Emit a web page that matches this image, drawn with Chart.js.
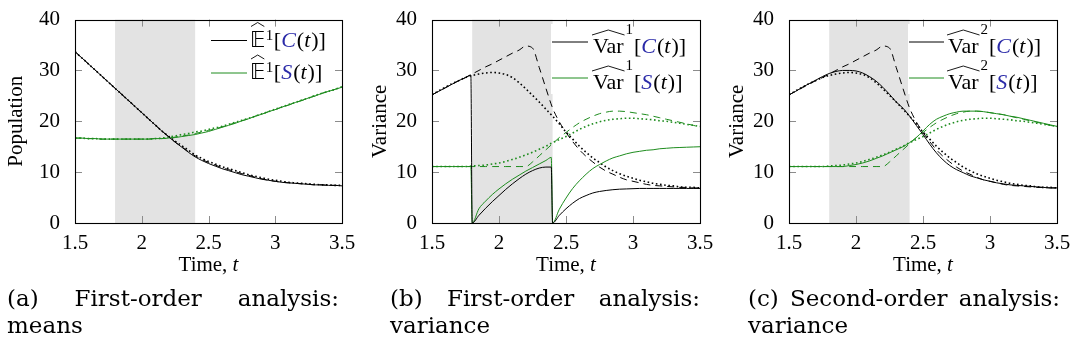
<!DOCTYPE html>
<html>
<head>
<meta charset="utf-8">
<script src="https://cdn.jsdelivr.net/npm/chart.js@4.4.1/dist/chart.umd.min.js"></script>
<style>
  body { margin: 0; background: #fff; width: 1074px; height: 361px; position: relative; overflow: hidden; }
  canvas { position: absolute; top: 0; }
  .cap { position: absolute; top: 285px; font-family: "DejaVu Serif", serif; font-size: 23px; line-height: 27px; color: #000; }
  .cap .first { text-align: justify; text-align-last: justify; }
</style>
</head>
<body>
<canvas id="meanChart" width="362" height="290" style="left:0px"></canvas>
<canvas id="var1Chart" width="363" height="290" style="left:357px"></canvas>
<canvas id="var2Chart" width="360" height="290" style="left:714px"></canvas>

<div class="cap" style="left:7px; width:332px"><div class="first">(a) First-order analysis:</div><div>means</div></div>
<div class="cap" style="left:390px; width:310px"><div class="first">(b) First-order analysis:</div><div>variance</div></div>
<div class="cap" style="left:748px; width:312px"><div class="first">(c) Second-order analysis:</div><div>variance</div></div>

<script>
// time grid shared by most curves
const tGrid = [1.5, 1.55, 1.6, 1.65, 1.7, 1.75, 1.8, 1.85, 1.9, 1.95, 2, 2.05, 2.1, 2.15, 2.2, 2.25,
  2.3, 2.35, 2.4, 2.45, 2.5, 2.55, 2.6, 2.65, 2.7, 2.75, 2.8, 2.85, 2.9, 2.95, 3, 3.05, 3.1, 3.15,
  3.2, 3.25, 3.3, 3.35, 3.4, 3.45, 3.5];
// first-order variance restarts at 1.8 and 2.4, so it gets points just before each restart
const tJump = [1.5, 1.55, 1.6, 1.65, 1.7, 1.75, 1.79, 1.8, 1.85, 1.9, 1.95, 2, 2.05, 2.1, 2.15, 2.2,
  2.25, 2.3, 2.35, 2.39, 2.4, 2.45, 2.5, 2.55, 2.6, 2.65, 2.7, 2.75, 2.8, 2.85, 2.9, 2.95, 3, 3.05,
  3.1, 3.15, 3.2, 3.25, 3.3, 3.35, 3.4, 3.45, 3.5];

const xTicks = [1.5, 2, 2.5, 3, 3.5];
const xTickLabels = ['1.5', '2', '2.5', '3', '3.5'];
const yTicks = [0, 10, 20, 30, 40];
const yTickLabels = ['0', '10', '20', '30', '40'];
const controlWindow = [1.8, 2.4];

// (a) means
const meanC = [33.7, 32.5, 31.3, 30.1, 28.9, 27.7, 26.5, 25.3, 24.1, 22.9, 21.7, 20.5, 19.3, 18.1, 17.0, 15.9,
  14.9, 13.9, 13.0, 12.3, 11.7, 11.2, 10.7, 10.3, 9.9, 9.5, 9.2, 8.9, 8.6, 8.4, 8.2, 8.0, 7.9, 7.8,
  7.7, 7.6, 7.5, 7.5, 7.4, 7.4, 7.3];
const meanCDashed = [33.7, 32.5, 31.3, 30.1, 28.9, 27.7, 26.5, 25.3, 24.1, 22.9, 21.7, 20.5, 19.3, 18.1, 17.0, 15.9,
  15.0, 14.0, 13.2, 12.5, 11.9, 11.4, 10.9, 10.5, 10.1, 9.7, 9.4, 9.0, 8.7, 8.4, 8.2, 8.0, 7.9, 7.8,
  7.7, 7.6, 7.5, 7.5, 7.4, 7.4, 7.3];
const meanCDotted = [33.7, 32.5, 31.3, 30.1, 28.9, 27.7, 26.5, 25.3, 24.1, 22.9, 21.7, 20.5, 19.3, 18.1, 17.1, 16.1,
  15.2, 14.3, 13.4, 12.7, 12.1, 11.6, 11.1, 10.7, 10.3, 9.9, 9.5, 9.2, 8.9, 8.6, 8.4, 8.2, 8.0, 7.9,
  7.8, 7.7, 7.6, 7.5, 7.5, 7.4, 7.4];
const meanS = [16.7, 16.7, 16.6, 16.6, 16.5, 16.5, 16.5, 16.5, 16.5, 16.5, 16.5, 16.5, 16.6, 16.6, 16.7, 16.8,
  17.0, 17.2, 17.4, 17.7, 18.0, 18.4, 18.8, 19.2, 19.6, 20.1, 20.5, 21.0, 21.4, 21.9, 22.3, 22.8, 23.2,
  23.7, 24.1, 24.6, 25.0, 25.5, 25.9, 26.3, 26.7];
const meanSDashed = [16.7, 16.7, 16.6, 16.6, 16.5, 16.5, 16.5, 16.5, 16.5, 16.5, 16.5, 16.5, 16.6, 16.6, 16.7, 16.9,
  17.1, 17.3, 17.6, 17.9, 18.2, 18.5, 18.9, 19.3, 19.7, 20.1, 20.5, 21.0, 21.4, 21.9, 22.3, 22.8, 23.2,
  23.7, 24.1, 24.6, 25.0, 25.5, 25.9, 26.3, 26.7];
const meanSDotted = [16.7, 16.7, 16.6, 16.6, 16.5, 16.5, 16.5, 16.5, 16.5, 16.5, 16.5, 16.5, 16.6, 16.7, 16.9, 17.1,
  17.4, 17.6, 17.9, 18.1, 18.4, 18.7, 19.0, 19.4, 19.8, 20.2, 20.6, 21.0, 21.5, 21.9, 22.4, 22.8, 23.3,
  23.7, 24.2, 24.6, 25.1, 25.5, 25.9, 26.3, 26.8];

// (b) first-order variance, on tJump
const varC1 = [25.2, 25.9, 26.6, 27.3, 28.0, 28.6, 29.1, 0, 1.5, 2.9, 4.2, 5.4, 6.6, 7.7, 8.7, 9.6,
  10.3, 10.8, 11.0, 11.0, 0, 1.5, 2.8, 3.9, 4.8, 5.4, 5.9, 6.2, 6.4, 6.55, 6.65, 6.7, 6.75, 6.8,
  6.8, 6.8, 6.8, 6.8, 6.8, 6.8, 6.8, 6.8, 6.8];
const varS1 = [11.1, 11.1, 11.1, 11.1, 11.1, 11.1, 11.1, 0, 2.8, 4.3, 5.6, 6.7, 7.7, 8.6, 9.4, 10.2,
  10.9, 11.6, 12.3, 12.9, 0, 2.7, 4.9, 6.8, 8.3, 9.6, 10.7, 11.5, 12.2, 12.8, 13.2, 13.6, 13.9, 14.1,
  14.3, 14.4, 14.6, 14.7, 14.8, 14.85, 14.9, 14.95, 15.0];

// reference variance curves, shared by (b) and (c)
const varCDashed = [25.2, 25.9, 26.6, 27.3, 28.0, 28.6, 29.3, 30.0, 30.7, 31.3, 32.0, 32.7, 33.4, 34.0, 34.8, 34.4,
  30.6, 26.5, 22.6, 19.9, 17.8, 16.0, 14.4, 13.1, 12.0, 11.0, 10.2, 9.6, 9.0, 8.5, 8.2, 7.9, 7.6,
  7.4, 7.3, 7.2, 7.1, 7.0, 7.0, 6.9, 6.9];
const varCDotted = [25.2, 26.0, 26.7, 27.4, 28.0, 28.6, 29.0, 29.3, 29.5, 29.6, 29.5, 29.2, 28.6, 27.6, 26.4, 25.1,
  23.8, 22.4, 21.0, 19.5, 17.9, 16.5, 15.1, 13.9, 12.8, 11.9, 11.0, 10.3, 9.7, 9.2, 8.8, 8.4, 8.1,
  7.8, 7.6, 7.4, 7.3, 7.1, 7.0, 7.0, 6.9];
const varSDashed = [11.1, 11.1, 11.1, 11.1, 11.1, 11.1, 11.1, 11.1, 11.1, 11.1, 11.1, 11.1, 11.1, 11.1, 11.1, 12.0,
  13.2, 14.4, 15.6, 16.8, 17.8, 18.8, 19.7, 20.4, 21.0, 21.5, 21.8, 22.0, 22.0, 21.9, 21.7, 21.5, 21.3,
  21.0, 20.7, 20.4, 20.1, 19.8, 19.5, 19.2, 18.9];
const varSDotted = [11.1, 11.1, 11.1, 11.1, 11.1, 11.1, 11.2, 11.3, 11.4, 11.6, 11.8, 12.1, 12.5, 12.9, 13.4, 13.9,
  14.5, 15.1, 15.8, 16.4, 17.0, 17.7, 18.4, 19.0, 19.5, 19.9, 20.2, 20.4, 20.5, 20.6, 20.6, 20.5, 20.4,
  20.3, 20.1, 20.0, 19.8, 19.6, 19.4, 19.2, 19.0];

// (c) second-order variance
const varC2 = [25.2, 25.9, 26.7, 27.4, 28.1, 28.8, 29.4, 29.8, 30.0, 30.0, 29.9, 29.5, 28.8, 27.9, 26.7, 25.3,
  23.8, 22.6, 21.0, 19.2, 17.4, 15.5, 13.8, 12.4, 11.3, 10.5, 9.9, 9.3, 8.9, 8.5, 8.2, 7.9, 7.7,
  7.5, 7.4, 7.3, 7.2, 7.1, 7.0, 6.9, 6.9];
const varS2 = [11.1, 11.1, 11.1, 11.1, 11.1, 11.1, 11.1, 11.1, 11.1, 11.3, 11.5, 11.8, 12.2, 12.7, 13.2, 13.8,
  14.4, 15.0, 15.8, 16.8, 18.1, 19.4, 20.4, 21.0, 21.5, 21.8, 22.0, 22.0, 22.0, 21.9, 21.7, 21.5, 21.3,
  21.0, 20.8, 20.5, 20.2, 19.9, 19.6, 19.3, 19.0];

const BLACK = '#000000';
const GREEN = '#1e8c1e';
const BLUE = '#2a2aa8';
const ROMAN = '21px "Liberation Serif"';
const ITALIC = 'italic 21px "Liberation Serif"';
const LEG = '22px "Liberation Serif"';
const LEG_IT = 'italic 22px "Liberation Serif"';
const SUP = '15px "Liberation Serif"';
const BB = '21px "DejaVu Sans"';

const pts = (ts, ys) => ts.map((t, i) => ({ x: t, y: ys[i] }));

function curve(ts, ys, color, style) {
  return {
    data: pts(ts, ys),
    borderColor: color,
    borderWidth: style === 'dotted' ? 1.6 : 1,
    borderDash: style === 'dashed' ? [7, 5] : (style === 'dotted' ? [1.6, 2.6] : []),
    pointRadius: 0,
    fill: false,
    cubicInterpolationMode: 'monotone',
  };
}

function hat(ctx, x0, x1, yb, h) {
  ctx.beginPath();
  ctx.moveTo(x0, yb);
  ctx.lineTo((x0 + x1) / 2, yb - h);
  ctx.lineTo(x1, yb);
  ctx.stroke();
}

// legend label such as E^1[C(t)] or Var^2[S(t)], hats drawn by hand
function drawLabel(ctx, x, base, item) {
  ctx.textAlign = 'left';
  ctx.textBaseline = 'alphabetic';
  ctx.fillStyle = '#000';
  ctx.strokeStyle = '#000';
  ctx.lineWidth = 0.9;
  let cx = x;
  if (item.op === 'E') {
    ctx.font = BB;
    const w = ctx.measureText('𝔼').width;
    ctx.fillText('𝔼', cx, base);
    hat(ctx, cx + 1, cx + w - 1, base - 20, 4);
    cx += w + 0.5;
    ctx.font = SUP;
    ctx.fillText(item.order, cx, base - 7);
    cx += ctx.measureText(item.order).width + 0.5;
  } else {
    ctx.font = LEG;
    const w = ctx.measureText('Var').width;
    ctx.fillText('Var', cx, base);
    hat(ctx, cx - 1, cx + w + 1, base - 18, 5);
    cx += w + 2;
    ctx.font = SUP;
    ctx.fillText(item.order, cx, base - 19);
    cx += ctx.measureText(item.order).width + 1;
  }
  const runs = [['[', LEG, BLACK], [item.arg, LEG_IT, BLUE], ['(', LEG, BLACK],
    ['t', LEG_IT, BLACK], [')', LEG, BLACK], [']', LEG, BLACK]];
  runs.forEach(([s, f, c]) => {
    ctx.font = f;
    ctx.fillStyle = c;
    ctx.fillText(s, cx, base);
    cx += ctx.measureText(s).width + (f === LEG_IT ? 1 : 0);
  });
}

const shadePlugin = {
  id: 'shade',
  beforeDatasetsDraw(chart) {
    const { ctx, chartArea: a, scales: { x } } = chart;
    const x0 = x.getPixelForValue(controlWindow[0]);
    const x1 = x.getPixelForValue(controlWindow[1]);
    ctx.save();
    ctx.fillStyle = '#e3e3e3';
    ctx.fillRect(x0, a.top, x1 - x0, a.bottom - a.top);
    ctx.restore();
  }
};

// legend box, inner tick marks, frame and the x axis title
const framePlugin = {
  id: 'frame',
  afterDraw(chart, args, opts) {
    const { ctx, chartArea: a, scales: { x, y } } = chart;
    const lg = opts.legend;
    ctx.save();

    ctx.fillStyle = '#fff';
    ctx.fillRect(a.right + lg.box[0], lg.box[1], lg.box[2], lg.box[3]);
    lg.entries.forEach((e, i) => {
      const ry = lg.rows[i];
      ctx.strokeStyle = e.color;
      ctx.lineWidth = 1;
      ctx.beginPath();
      ctx.moveTo(a.right + lg.lineX[0], ry);
      ctx.lineTo(a.right + lg.lineX[1], ry);
      ctx.stroke();
      drawLabel(ctx, a.right + lg.textX, ry + lg.baseOff, e);
    });

    ctx.strokeStyle = '#8c8c8c';
    ctx.lineWidth = 1;
    ctx.beginPath();
    xTicks.slice(1, -1).forEach(v => {
      const px = Math.round(x.getPixelForValue(v)) + 0.5;
      ctx.moveTo(px, a.bottom); ctx.lineTo(px, a.bottom - 7);
      ctx.moveTo(px, a.top); ctx.lineTo(px, a.top + 7);
    });
    yTicks.slice(1, -1).forEach(v => {
      const py = Math.round(y.getPixelForValue(v)) + 0.5;
      ctx.moveTo(a.left, py); ctx.lineTo(a.left + 7, py);
      ctx.moveTo(a.right, py); ctx.lineTo(a.right - 7, py);
    });
    ctx.stroke();

    ctx.strokeStyle = '#000';
    ctx.lineWidth = 1.1;
    ctx.strokeRect(Math.round(a.left) + 0.5, Math.round(a.top) + 0.5,
      Math.round(a.right - a.left), Math.round(a.bottom - a.top));

    ctx.fillStyle = '#000';
    ctx.textBaseline = 'alphabetic';
    ctx.textAlign = 'left';
    ctx.font = ROMAN;
    const w1 = ctx.measureText('Time, ').width;
    ctx.font = ITALIC;
    const w2 = ctx.measureText('t').width;
    const sx = (a.left + a.right) / 2 - (w1 + w2) / 2;
    ctx.font = ROMAN;
    ctx.fillText('Time, ', sx, a.bottom + 48);
    ctx.font = ITALIC;
    ctx.fillText('t', sx + w1, a.bottom + 48);
    ctx.restore();
  }
};

function makeChart(id, datasets, yTitle, titlePad, padRight, legend) {
  return new Chart(document.getElementById(id), {
    type: 'line',
    data: { datasets },
    options: {
      responsive: false,
      animation: false,
      layout: { padding: { top: 16, right: padRight, bottom: 0, left: 0 } },
      plugins: {
        legend: { display: false },
        tooltip: { enabled: false },
        frame: { legend },
      },
      scales: {
        x: {
          type: 'linear', min: 1.5, max: 3.5,
          afterBuildTicks: s => { s.ticks = xTicks.map(v => ({ value: v })); },
          afterFit: s => { s.height = 67; },
          grid: { display: false },
          border: { display: false },
          ticks: {
            font: { family: 'Liberation Serif', size: 21 }, color: '#000', padding: 0,
            maxRotation: 0, autoSkip: false,
            callback: (v, i) => xTickLabels[i],
          },
        },
        y: {
          type: 'linear', min: 0, max: 40,
          afterBuildTicks: s => { s.ticks = yTicks.map(v => ({ value: v })); },
          afterFit: s => { s.width = 75; },
          grid: { display: false },
          border: { display: false },
          ticks: {
            font: { family: 'Liberation Serif', size: 21 }, color: '#000', padding: 7,
            callback: (v, i) => yTickLabels[i],
          },
          title: {
            display: true, text: yTitle, color: '#000',
            font: { family: 'Liberation Serif', size: 21 },
            padding: { top: titlePad, bottom: 0 },
          },
        },
      },
    },
    plugins: [shadePlugin, framePlugin],
  });
}

makeChart('meanChart', [
  curve(tGrid, meanC, BLACK, 'solid'),
  curve(tGrid, meanS, GREEN, 'solid'),
  curve(tGrid, meanCDashed, BLACK, 'dashed'),
  curve(tGrid, meanSDashed, GREEN, 'dashed'),
  curve(tGrid, meanCDotted, BLACK, 'dotted'),
  curve(tGrid, meanSDotted, GREEN, 'dotted'),
], 'Population', 3.5, 20, {
  box: [-137, 22, 134, 64], lineX: [-131, -95], textX: -92, rows: [40.5, 73], baseOff: 6,
  entries: [
    { color: BLACK, op: 'E', order: '1', arg: 'C' },
    { color: GREEN, op: 'E', order: '1', arg: 'S' },
  ],
});

makeChart('var1Chart', [
  curve(tJump, varC1, BLACK, 'solid'),
  curve(tJump, varS1, GREEN, 'solid'),
  curve(tGrid, varCDashed, BLACK, 'dashed'),
  curve(tGrid, varCDotted, BLACK, 'dotted'),
  curve(tGrid, varSDashed, GREEN, 'dashed'),
  curve(tGrid, varSDotted, GREEN, 'dotted'),
], 'Variance', 10.7, 20, {
  box: [-149, 24, 142, 70], lineX: [-148, -112], textX: -107, rows: [42, 78], baseOff: 11,
  entries: [
    { color: BLACK, op: 'Var', order: '1', arg: 'C' },
    { color: GREEN, op: 'Var', order: '1', arg: 'S' },
  ],
});

makeChart('var2Chart', [
  curve(tGrid, varC2, BLACK, 'solid'),
  curve(tGrid, varS2, GREEN, 'solid'),
  curve(tGrid, varCDashed, BLACK, 'dashed'),
  curve(tGrid, varCDotted, BLACK, 'dotted'),
  curve(tGrid, varSDashed, GREEN, 'dashed'),
  curve(tGrid, varSDotted, GREEN, 'dotted'),
], 'Variance', 10.4, 17, {
  box: [-149, 24, 145, 70], lineX: [-148, -113], textX: -109, rows: [42, 78], baseOff: 11,
  entries: [
    { color: BLACK, op: 'Var', order: '2', arg: 'C' },
    { color: GREEN, op: 'Var', order: '2', arg: 'S' },
  ],
});
</script>
</body>
</html>
